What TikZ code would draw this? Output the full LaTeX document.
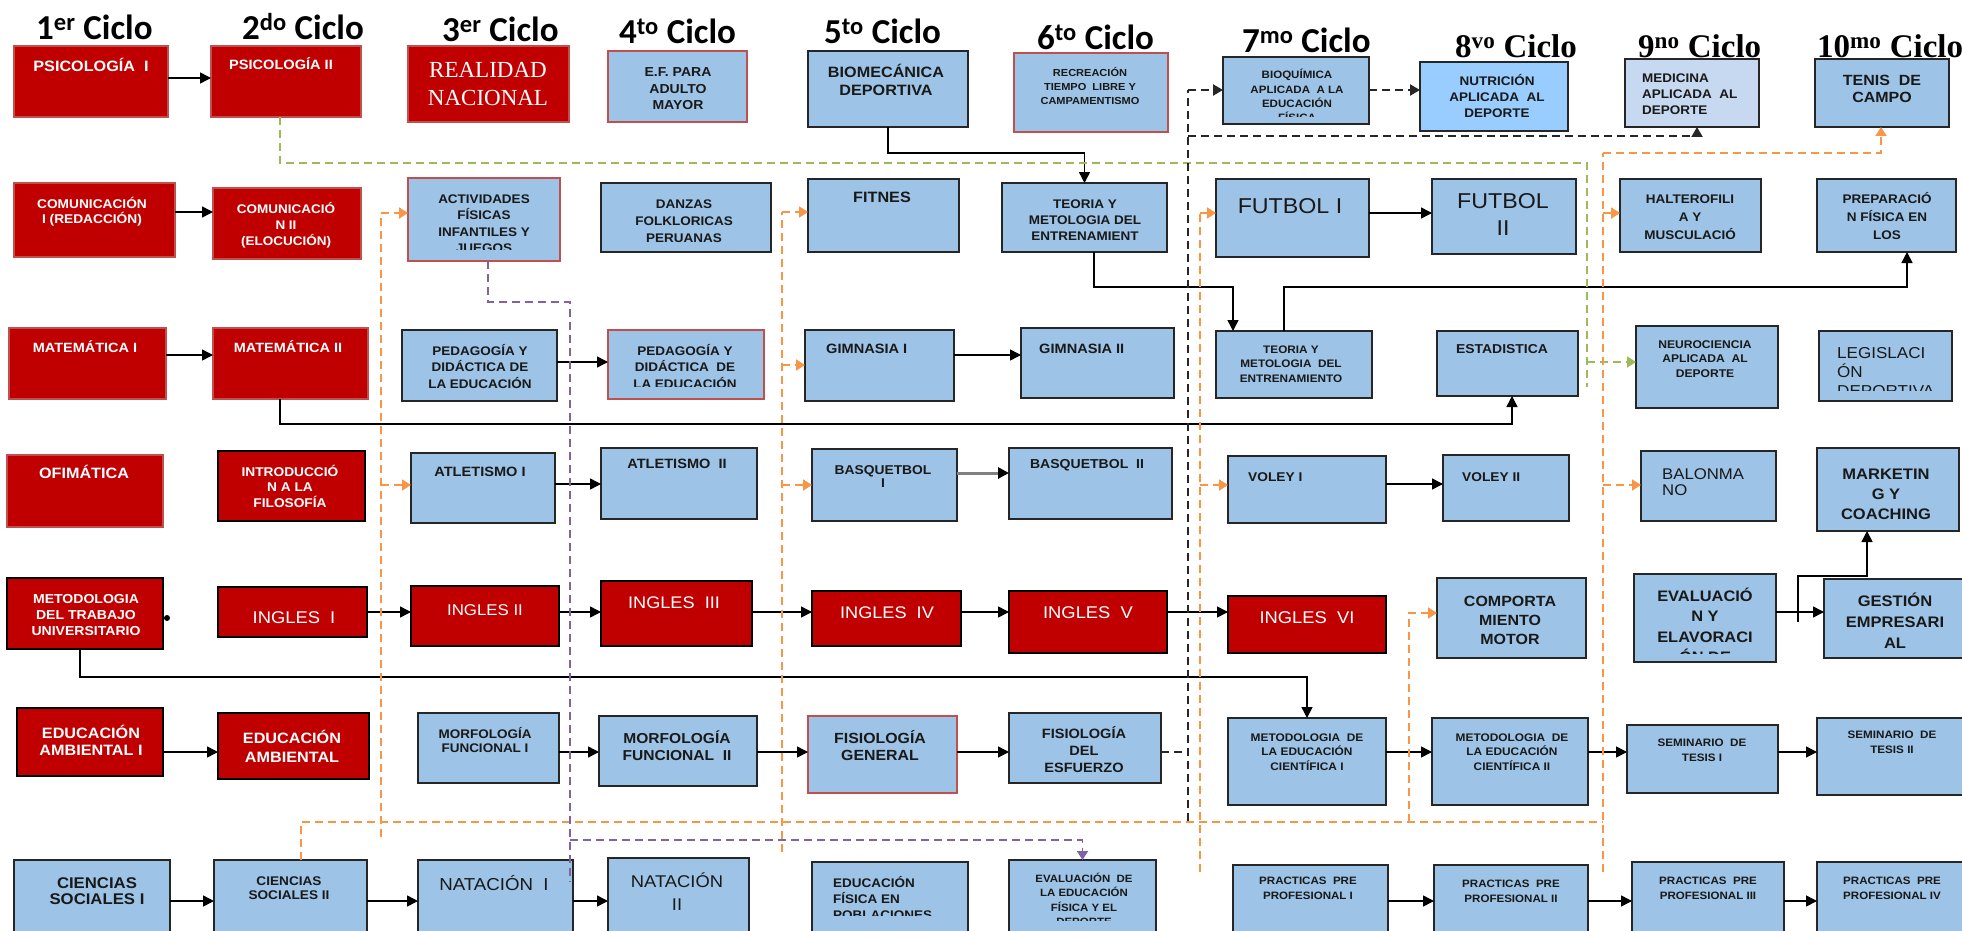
\documentclass[tikz,border=0pt]{standalone}
\usepackage{fontspec}
\usetikzlibrary{arrows.meta}
\newfontfamily\bxf[FakeStretch=1.08]{Liberation Sans}
\newfontfamily\ttlf{Carlito}
\newfontfamily\ttsf{Liberation Serif}
\definecolor{redc}{HTML}{C00000}
\definecolor{redb}{HTML}{C0504D}
\definecolor{bluc}{HTML}{9DC3E6}
\definecolor{brownc}{HTML}{C0504D}
\definecolor{nutc}{HTML}{99CCFF}
\definecolor{medc}{HTML}{C6D9F1}
\definecolor{orc}{HTML}{F79646}
\definecolor{grc}{HTML}{9BBB59}
\definecolor{puc}{HTML}{8064A2}
\newcommand\fb[2]{\bxf\bfseries\fontsize{#1}{#2}\selectfont}
\newcommand\fr[2]{\bxf\fontsize{#1}{#2}\selectfont}
\newcommand\bx[6]{\node[#2, minimum width={(#5)-(#3)}, minimum height={(#6)-(#4)}] (#1) at ({((#3)+(#5))/2},{((#4)+(#6))/2}) {};}
\newcommand\tx[7][9]{\begin{scope}\clip ([yshift=#1pt]#2.south west) rectangle (#2.north east);\node[anchor=base,inner sep=0pt,#5] (#2-t) at (#3,#4) {\begin{tabular}[t]{@{}#6@{}}#7\end{tabular}};\end{scope}}
\tikzset{
 bxr/.style={rectangle, inner sep=0pt, outer sep=0pt, fill=redc, draw=redb, line width=1.2pt},
 bxrk/.style={bxr, draw=black, line width=2pt},
 bxb/.style={rectangle, inner sep=0pt, outer sep=0pt, fill=bluc, draw=black!85, line width=2pt},
 bxbr/.style={bxb, draw=brownc},
 bxn/.style={bxb, fill=nutc},
 bxm/.style={bxb, fill=medc},
 wt/.style={text=white},
 dk/.style={text=black!90},
 ttl/.style={anchor=base west, inner sep=0pt, font=\ttlf\bfseries\fontsize{35}{40}\selectfont},
 ttls/.style={anchor=base west, inner sep=0pt, font=\ttsf\bfseries\fontsize{33}{38}\selectfont},
 arr/.style={line width=1.5pt, -{Triangle[length=11pt,width=11pt]}},
 odash/.style={draw=orc, line width=1.8pt, dash pattern=on 8pt off 5pt},
 oarr/.style={odash, -{Triangle[length=9pt,width=11pt]}},
 gdash/.style={draw=grc, line width=1.8pt, dash pattern=on 8pt off 5pt},
 garr/.style={gdash, -{Triangle[length=9pt,width=11pt]}},
 pdash/.style={draw=puc, line width=1.8pt, dash pattern=on 8pt off 5pt},
 parr/.style={pdash, -{Triangle[length=9pt,width=11pt]}},
 kdash/.style={draw=black!85, line width=2pt, dash pattern=on 8pt off 5pt},
 karr/.style={kdash, -{Triangle[length=10pt,width=11pt]}},
}
\begin{document}
\begin{tikzpicture}[x=1pt,y=-1pt]
\useasboundingbox (0,0) rectangle (1962,931);
\clip (0,0) rectangle (1962,931);
\fill[white] (0,0) rectangle (1962,931);
% titles
\node[ttl] (c1) at (36,40) {1\textsuperscript{er} Ciclo};
\node[ttl] (c2) at (242,40) {2\textsuperscript{do} Ciclo};
\node[ttl] (c3) at (442,42) {3\textsuperscript{er} Ciclo};
\node[ttl] (c4) at (619,44) {4\textsuperscript{to} Ciclo};
\node[ttl] (c5) at (824,44) {5\textsuperscript{to} Ciclo};
\node[ttl] (c6) at (1037,50) {6\textsuperscript{to} Ciclo};
\node[ttl] (c7) at (1242,53) {7\textsuperscript{mo} Ciclo};
\node[ttls] (c8) at (1455,58) {8\textsuperscript{vo} Ciclo};
\node[ttls] (c9) at (1638,58) {9\textsuperscript{no} Ciclo};
\node[ttls] (c10) at (1817,58) {10\textsuperscript{mo} Ciclo};
% row 1
\bx{psi1}{bxr}{14}{46}{168}{117}
\bx{psi2}{bxr}{211}{46}{361}{117}
\bx{rn}{bxr}{408}{46}{569}{122}
\bx{efp}{bxbr}{608}{51}{747}{122}
\bx{bio}{bxb}{808}{51}{968}{127}
\bx{rec}{bxbr}{1014}{53}{1168}{132}
\bx{bq}{bxb}{1223}{57}{1369}{124}
\bx{nut}{bxn}{1420}{62}{1568}{131}
\bx{med}{bxm}{1625}{59}{1759}{127}
\bx{ten}{bxb}{1815}{59}{1949}{127}
\tx{psi1}{91}{72}{font=\fb{15}{16},wt}{c}{PSICOLOGÍA\ \ I}
\tx{psi2}{281}{70}{font=\fb{13.5}{15},wt}{c}{PSICOLOGÍA II}
\tx{rn}{488}{78}{font=\ttsf\fontsize{23}{28}\selectfont,wt}{c}{REALIDAD\\NACIONAL}
\tx{efp}{678}{77}{font=\fb{13}{16.5},dk}{c}{E.F. PARA\\ADULTO\\MAYOR}
\tx{bio}{886}{78}{font=\fb{15}{18},dk}{c}{BIOMECÁNICA\\DEPORTIVA}
\tx{rec}{1090}{77}{font=\fb{10.2}{14},dk}{c}{RECREACIÓN\\TIEMPO\ \ LIBRE Y\\CAMPAMENTISMO}
\tx[7]{bq}{1297}{79}{font=\fb{10.7}{14.3},dk}{c}{BIOQUÍMICA\\APLICADA\ \ A LA\\EDUCACIÓN\\FÍSICA}
\tx{nut}{1497}{86}{font=\fb{12.5}{16},dk}{c}{NUTRICIÓN\\APLICADA\ \ AL\\DEPORTE}
\tx{med}{1642}{83}{font=\fb{12.5}{16},dk,anchor=base west}{l}{MEDICINA\\APLICADA\ \ AL\\DEPORTE}
\tx{ten}{1882}{86}{font=\fb{14.8}{17},dk}{c}{TENIS\ \ DE\\CAMPO}
% row 2
\bx{com1}{bxr}{14}{183}{175}{257}
\bx{com2}{bxr}{213}{188}{361}{259}
\bx{act}{bxbr}{408}{178}{560}{261}
\bx{dan}{bxb}{601}{183}{771}{252}
\bx{fit}{bxb}{808}{179}{959}{252}
\bx{teo6}{bxb}{1002}{183}{1167}{252}
\bx{fut1}{bxb}{1216}{179}{1369}{257}
\bx{fut2}{bxb}{1432}{179}{1576}{254}
\bx{hal}{bxb}{1620}{179}{1761}{252}
\bx{prep}{bxb}{1817}{179}{1956}{252}
\tx{com1}{92}{208}{font=\fb{12.7}{15},wt}{c}{COMUNICACIÓN\\I (REDACCIÓN)}
\tx{com2}{286}{213}{font=\fb{12.5}{16},wt}{c}{COMUNICACIÓ\\N II\\(ELOCUCIÓN)}
\tx[12]{act}{484}{203}{font=\fb{12.5}{16.5},dk}{c}{ACTIVIDADES\\FÍSICAS\\INFANTILES Y\\JUEGOS}
\tx{dan}{684}{208}{font=\fb{12.5}{17},dk}{c}{DANZAS\\FOLKLORICAS\\PERUANAS}
\tx{fit}{882}{202}{font=\fb{15}{16},dk}{c}{FITNES}
\tx[12]{teo6}{1085}{208}{font=\fb{12.5}{16},dk}{c}{TEORIA Y\\METOLOGIA DEL\\ENTRENAMIENT}
\tx{fut1}{1290}{213}{font=\fr{21.5}{25},dk}{c}{FUTBOL I}
\tx{fut2}{1503}{208}{font=\fr{21.5}{27},dk}{c}{FUTBOL\\II}
\tx{hal}{1690}{203}{font=\fb{12.5}{18},dk}{c}{HALTEROFILI\\A Y\\MUSCULACIÓ}
\tx{prep}{1887}{203}{font=\fb{12.5}{18},dk}{c}{PREPARACIÓ\\N FÍSICA EN\\LOS}
% row 3
\bx{mat1}{bxr}{9}{328}{166}{399}
\bx{mat2}{bxr}{213}{328}{368}{399}
\bx{ped3}{bxb}{402}{330}{557}{401}
\bx{ped4}{bxbr}{608}{330}{764}{399}
\bx{gim1}{bxb}{805}{330}{954}{401}
\bx{gim2}{bxb}{1021}{328}{1174}{398}
\bx{teo7}{bxb}{1216}{331}{1372}{398}
\bx{est}{bxb}{1437}{331}{1578}{396}
\bx{neu}{bxb}{1636}{326}{1778}{408}
\bx{leg}{bxb}{1819}{331}{1952}{401}
\tx{mat1}{85}{352}{font=\fb{13.4}{16},wt}{c}{MATEMÁTICA I}
\tx{mat2}{288}{352}{font=\fb{13.4}{16},wt}{c}{MATEMÁTICA II}
\tx{ped3}{480}{355}{font=\fb{12.5}{16.5},dk}{c}{PEDAGOGÍA Y\\DIDÁCTICA DE\\LA EDUCACIÓN}
\tx[13]{ped4}{685}{355}{font=\fb{12.5}{16.5},dk}{c}{PEDAGOGÍA Y\\DIDÁCTICA\ \ DE\\LA EDUCACIÓN}
\tx{gim1}{826}{353}{font=\fb{13.5}{15},dk,anchor=base west}{l}{GIMNASIA I}
\tx{gim2}{1039}{353}{font=\fb{13.5}{15},dk,anchor=base west}{l}{GIMNASIA II}
\tx{teo7}{1291}{353}{font=\fb{10.9}{14.5},dk}{c}{TEORIA Y\\METOLOGIA\ \ DEL\\ENTRENAMIENTO}
\tx{est}{1502}{353}{font=\fb{12.9}{15},dk}{c}{ESTADISTICA}
\tx{neu}{1705}{348}{font=\fb{11.2}{14.5},dk}{c}{NEUROCIENCIA\\APLICADA\ \ AL\\DEPORTE}
\tx[11]{leg}{1837}{358}{font=\fr{15.8}{19},dk,anchor=base west}{l}{LEGISLACI\\ÓN\\DEPORTIVA}
% row 4
\bx{ofi}{bxr}{7}{455}{163}{527}
\bx{intr}{bxrk}{218}{451}{365}{521}
\bx{atl1}{bxb}{411}{453}{555}{523}
\bx{atl2}{bxb}{601}{448}{757}{519}
\bx{bas1}{bxb}{812}{449}{957}{521}
\bx{bas2}{bxb}{1009}{448}{1172}{519}
\bx{vol1}{bxb}{1228}{456}{1386}{523}
\bx{vol2}{bxb}{1443}{455}{1569}{521}
\bx{bal}{bxb}{1641}{451}{1776}{521}
\bx{mark}{bxb}{1817}{448}{1959}{531}
\tx{ofi}{84}{478}{font=\fb{15}{18},wt}{c}{OFIMÁTICA}
\tx{intr}{290}{476}{font=\fb{12.7}{15.5},wt}{c}{INTRODUCCIÓ\\N A LA\\FILOSOFÍA}
\tx{atl1}{480}{476}{font=\fb{13.5}{14},dk}{c}{ATLETISMO I}
\tx{atl2}{677}{468}{font=\fb{13.5}{14},dk}{c}{ATLETISMO\ \ II}
\tx{bas1}{883}{474}{font=\fb{12.8}{13},dk}{c}{BASQUETBOL\\I}
\tx{bas2}{1087}{468}{font=\fb{13}{14},dk}{c}{BASQUETBOL\ \ II}
\tx{vol1}{1248}{481}{font=\fb{12.7}{14},dk,anchor=base west}{l}{VOLEY I}
\tx{vol2}{1462}{481}{font=\fb{12.7}{14},dk,anchor=base west}{l}{VOLEY II}
\tx{bal}{1662}{479}{font=\fr{15.5}{16.5},dk,anchor=base west}{l}{BALONMA\\NO}
\tx{mark}{1886}{479}{font=\fb{15.3}{20},dk}{c}{MARKETIN\\G Y\\COACHING}
% row 5
\bx{mtu}{bxrk}{7}{578}{163}{649}
\bx{ing1}{bxrk}{218}{587}{367}{637}
\bx{ing2}{bxrk}{411}{586}{559}{646}
\bx{ing3}{bxrk}{601}{581}{752}{646}
\bx{ing4}{bxrk}{812}{591}{961}{646}
\bx{ing5}{bxrk}{1009}{591}{1167}{653}
\bx{ing6}{bxrk}{1228}{596}{1386}{653}
\bx{comp}{bxb}{1437}{578}{1586}{658}
\bx{eval}{bxb}{1634}{574}{1776}{662}
\bx{gest}{bxb}{1824}{579}{1970}{658}
\tx{mtu}{86}{603}{font=\fb{13}{16},wt}{c}{METODOLOGIA\\DEL TRABAJO\\UNIVERSITARIO}
\tx{ing1}{294}{623}{font=\fr{17}{20},wt}{c}{INGLES\ \ I}
\tx{ing2}{485}{615}{font=\fr{15.6}{20},wt}{c}{INGLES II}
\tx{ing3}{674}{608}{font=\fr{16.8}{20},wt}{c}{INGLES\ \ III}
\tx{ing4}{887}{618}{font=\fr{16.8}{20},wt}{c}{INGLES\ \ IV}
\tx{ing5}{1088}{618}{font=\fr{17}{20},wt}{c}{INGLES\ \ V}
\tx{ing6}{1307}{623}{font=\fr{17}{20},wt}{c}{INGLES\ \ VI}
\tx{comp}{1510}{606}{font=\fb{14.8}{19},dk}{c}{COMPORTA\\MIENTO\\MOTOR}
\tx{eval}{1705}{601}{font=\fb{15.2}{20.5},dk}{c}{EVALUACIÓ\\N Y\\ELAVORACI\\ÓN DE}
\tx{gest}{1895}{606}{font=\fb{15.3}{21},dk}{c}{GESTIÓN\\EMPRESARI\\AL}
% row 6
\bx{eda1}{bxrk}{17}{708}{163}{776}
\bx{eda2}{bxrk}{218}{713}{369}{779}
\bx{mor1}{bxb}{418}{713}{559}{783}
\bx{mor2}{bxb}{599}{716}{757}{786}
\bx{fisg}{bxbr}{808}{716}{957}{793}
\bx{fise}{bxb}{1009}{713}{1161}{783}
\bx{mec1}{bxb}{1228}{718}{1386}{805}
\bx{mec2}{bxb}{1432}{718}{1588}{805}
\bx{sem1}{bxb}{1627}{725}{1778}{793}
\bx{sem2}{bxb}{1817}{718}{1970}{795}
\tx{eda1}{91}{738}{font=\fb{15}{17},wt}{c}{EDUCACIÓN\\AMBIENTAL I}
\tx{eda2}{292}{743}{font=\fb{15}{19},wt}{c}{EDUCACIÓN\\AMBIENTAL}
\tx{mor1}{485}{738}{font=\fb{12.5}{14},dk}{c}{MORFOLOGÍA\\FUNCIONAL I}
\tx{mor2}{677}{743}{font=\fb{14.4}{17},dk}{c}{MORFOLOGÍA\\FUNCIONAL\ \ II}
\tx{fisg}{880}{743}{font=\fb{14.7}{17},dk}{c}{FISIOLOGÍA\\GENERAL}
\tx{fise}{1084}{738}{font=\fb{13.5}{17},dk}{c}{FISIOLOGÍA\\DEL\\ESFUERZO}
\tx{mec1}{1307}{741}{font=\fb{11}{14.5},dk}{c}{METODOLOGIA\ \ DE\\LA EDUCACIÓN\\CIENTÍFICA I}
\tx{mec2}{1512}{741}{font=\fb{11}{14.5},dk}{c}{METODOLOGIA\ \ DE\\LA EDUCACIÓN\\CIENTÍFICA II}
\tx{sem1}{1702}{746}{font=\fb{10.8}{15},dk}{c}{SEMINARIO\ \ DE\\TESIS I}
\tx{sem2}{1892}{738}{font=\fb{10.8}{15},dk}{c}{SEMINARIO\ \ DE\\TESIS II}
% row 7
\bx{cs1}{bxb}{14}{860}{170}{945}
\bx{cs2}{bxb}{214}{860}{367}{945}
\bx{nat1}{bxb}{418}{860}{573}{945}
\bx{nat2}{bxb}{608}{858}{749}{945}
\bx{efpob}{bxb}{812}{862}{968}{945}
\bx{evd}{bxb}{1009}{860}{1156}{945}
\bx{pra1}{bxb}{1233}{865}{1388}{945}
\bx{pra2}{bxb}{1434}{865}{1588}{945}
\bx{pra3}{bxb}{1632}{862}{1784}{945}
\bx{pra4}{bxb}{1817}{862}{1970}{945}
\tx{cs1}{97}{888}{font=\fb{15.5}{16},dk}{c}{CIENCIAS\\SOCIALES I}
\tx{cs2}{289}{885}{font=\fb{12.6}{14},dk}{c}{CIENCIAS\\SOCIALES II}
\tx{nat1}{494}{890}{font=\fr{17.3}{22},dk}{c}{NATACIÓN\ \ I}
\tx{nat2}{677}{887}{font=\fr{17}{23},dk}{c}{NATACIÓN\\II}
\tx[30]{efpob}{833}{887}{font=\fb{12.5}{16},dk,anchor=base west}{l}{EDUCACIÓN\\FÍSICA EN\\POBLACIONES}
\tx[25]{evd}{1084}{882}{font=\fb{10.6}{14.5},dk}{c}{EVALUACIÓN\ \ DE\\LA EDUCACIÓN\\FÍSICA Y EL\\DEPORTE}
\tx{pra1}{1308}{884}{font=\fb{10.7}{15},dk}{c}{PRACTICAS\ \ PRE\\PROFESIONAL I}
\tx{pra2}{1511}{887}{font=\fb{10.7}{15},dk}{c}{PRACTICAS\ \ PRE\\PROFESIONAL II}
\tx{pra3}{1708}{884}{font=\fb{10.7}{15},dk}{c}{PRACTICAS\ \ PRE\\PROFESIONAL III}
\tx{pra4}{1892}{884}{font=\fb{10.7}{15},dk}{c}{PRACTICAS\ \ PRE\\PROFESIONAL IV}
% dot
\node[circle, fill=black, inner sep=0pt, minimum size=6pt] (dot) at (167,618) {};
% solid horizontal arrows
\foreach \a/\b/\y in {psi1/psi2/78, com1/com2/212, mat1/mat2/355, ped3/ped4/362, gim1/gim2/355, fut1/fut2/213, atl1/atl2/484, vol1/vol2/484, ing1/ing2/612, ing2/ing3/612, ing3/ing4/612, ing4/ing5/612, ing5/ing6/612, eval/gest/612, eda1/eda2/752, mor1/mor2/752, mor2/fisg/752, fisg/fise/752, mec1/mec2/752, mec2/sem1/752, sem1/sem2/752, cs1/cs2/901, cs2/nat1/901, nat1/nat2/901, pra1/pra2/901, pra2/pra3/901, pra3/pra4/901}
  \draw[arr] (\a.east |- 0,\y) -- (\b.west |- 0,\y);
\draw[line width=3pt, draw=black!50, -{Triangle[length=11pt,width=11pt,color=black]}] (bas1.east |- 0,473) -- (bas2.west |- 0,473);
% solid elbows
\draw[arr] (bio.south) -- (bio.south |- 0,153) -| (teo6.north);
\draw[arr] (teo6.south -| 1094,0) -- (1094,287) -| (teo7.north -| 1233,0);
\draw[arr] (teo7.north -| 1284,0) -- (1284,287) -| (prep.south -| 1907,0);
\draw[arr] (mat2.south -| 280,0) -- (280,424) -| (est.south -| 1512,0);
\draw[arr] (mtu.south -| 80,0) -- (80,677) -| (mec1.north);
\coordinate (gm) at (1798,622);
\draw[arr] (gm) -- (1798,576) -| (mark.south -| 1867,0);
% green
\draw[gdash] (psi2.south -| 280,0) |- (1587,163) -- (1587,387);
\draw[garr] (1587,362) -- (neu.west |- 0,362);
% orange
\coordinate (oa) at (381,837);
\coordinate (ob) at (782,852);
\coordinate (oc) at (1200,872);
\coordinate (od) at (1409,822);
\coordinate (oe) at (1603,872);
\draw[odash] (cs2.north -| 301,0) -- (301,822) -- (1603,822);
\draw[odash] (oa) -- (381,213);
\draw[oarr] (381,213) -- (act.west |- 0,213);
\draw[oarr] (381,485) -- (atl1.west |- 0,485);
\draw[odash] (ob) -- (782,212);
\draw[oarr] (782,212) -- (fit.west |- 0,212);
\draw[oarr] (782,365) -- (gim1.west |- 0,365);
\draw[oarr] (782,485) -- (bas1.west |- 0,485);
\draw[odash] (oc) -- (1200,213);
\draw[oarr] (1200,213) -- (fut1.west |- 0,213);
\draw[oarr] (1200,485) -- (vol1.west |- 0,485);
\draw[oarr] (od) -- (1409,613) -- (comp.west |- 0,613);
\draw[odash] (oe) -- (1603,153);
\draw[oarr] (1603,213) -- (hal.west |- 0,213);
\draw[oarr] (1603,485) -- (bal.west |- 0,485);
\draw[oarr] (1603,153) -| (ten.south -| 1881,0);
% black dashed
\coordinate (ka) at (1188,821);
\draw[kdash] (fise.east |- 0,752) -- (1188,752);
\draw[kdash] (ka) -- (1188,90);
\draw[karr] (1188,90) -- (bq.west |- 0,90);
\draw[karr] (1188,136) -| (med.south -| 1697,0);
\draw[karr] (bq.east |- 0,90) -- (nut.west |- 0,90);
% purple
\coordinate (pa) at (570,882);
\draw[pdash] (act.south -| 488,0) |- (570,302) -- (pa);
\draw[parr] (570,840) -| (evd.north);
\end{tikzpicture}
\end{document}
